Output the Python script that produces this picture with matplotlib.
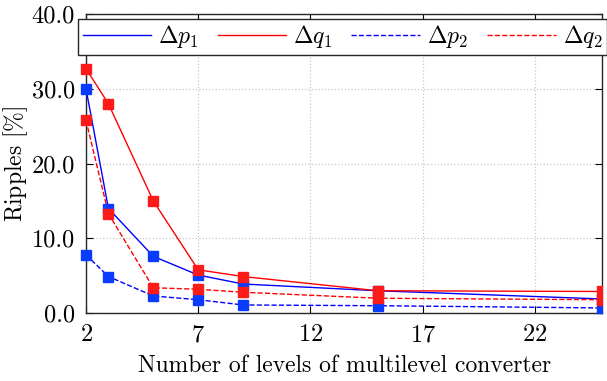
import matplotlib
matplotlib.use('Agg')
import matplotlib.pyplot as plt
from matplotlib.transforms import Bbox, TransformedBbox

plt.rcParams['font.family'] = 'serif'
plt.rcParams['font.serif'] = ['cmr10']
plt.rcParams['mathtext.fontset'] = 'cm'
plt.rcParams['axes.formatter.use_mathtext'] = True

# levels of the converter
levels = [2, 3, 5, 7, 9, 15, 25]
# ripples in %
dp1 = [30.0, 14.0, 7.6, 5.1, 3.9, 3.0, 1.9]
dq1 = [32.7, 28.0, 15.0, 5.8, 4.9, 3.0, 2.9]
dp2 = [7.8, 4.9, 2.3, 1.8, 1.1, 1.0, 0.7]
dq2 = [25.8, 13.3, 3.4, 3.2, 2.8, 2.0, 1.8]

series = [(dp1, r'$\Delta p_1$', 'b', '-'),
          (dq1, r'$\Delta q_1$', 'r', '-'),
          (dp2, r'$\Delta p_2$', 'b', '--'),
          (dq2, r'$\Delta q_2$', 'r', '--')]

fig = plt.figure(figsize=(6.07, 3.81), dpi=100)
ax = fig.add_axes([0.1417, 0.178, 0.8503, 0.785])

# clip box that lets markers stick out on the left only
clip = TransformedBbox(Bbox([[-0.1, -0.1], [1.0, 1.1]]), ax.transAxes)

handles = []
for vals, lab, col, ls in series:
    ln, = ax.plot(levels, vals, color=col, ls=ls, lw=1.0, label=lab, zorder=3)
    handles.append(ln)
    mcol = '#0a3cff' if col == 'b' else '#ff1a1a'
    mk, = ax.plot(levels, vals, ls='none', marker='s', ms=7, mfc=mcol, mec=mcol, zorder=4)
    mk.set_clip_box(clip)

ax.set_xlim(2, 25)
ax.set_ylim(0, 40)
ax.set_xticks([2, 7, 12, 17, 22])
ax.set_yticks([0, 10, 20, 30, 40])
ax.set_yticklabels(['0.0', '10.0', '20.0', '30.0', '40.0'])
ax.grid(True, ls=':', color='#c8c8c8', lw=0.9)
ax.tick_params(direction='in', top=True, right=True, labelsize=17.5, length=5,
               width=0.8, pad=8)
for s in ax.spines.values():
    s.set_linewidth(1.0)
    s.set_color('#262626')

ax.set_xlabel('Number of levels of multilevel converter', fontsize=17, labelpad=6)
ax.set_ylabel(r'Ripples $[\%]$', fontsize=17, va='center')
ax.yaxis.set_label_coords(-0.137, 0.5)

leg = ax.legend(handles=handles, ncol=4, loc='lower left', mode='expand',
                bbox_to_anchor=(-0.0155, 0.863, 1.025, 0.117), fontsize=17,
                handlelength=2.9, framealpha=1, fancybox=False,
                edgecolor='#262626', borderaxespad=0, columnspacing=0.6,
                handletextpad=0.3, borderpad=0.2)
leg.get_frame().set_linewidth(1.0)

fig.savefig('out.png', dpi=100)
